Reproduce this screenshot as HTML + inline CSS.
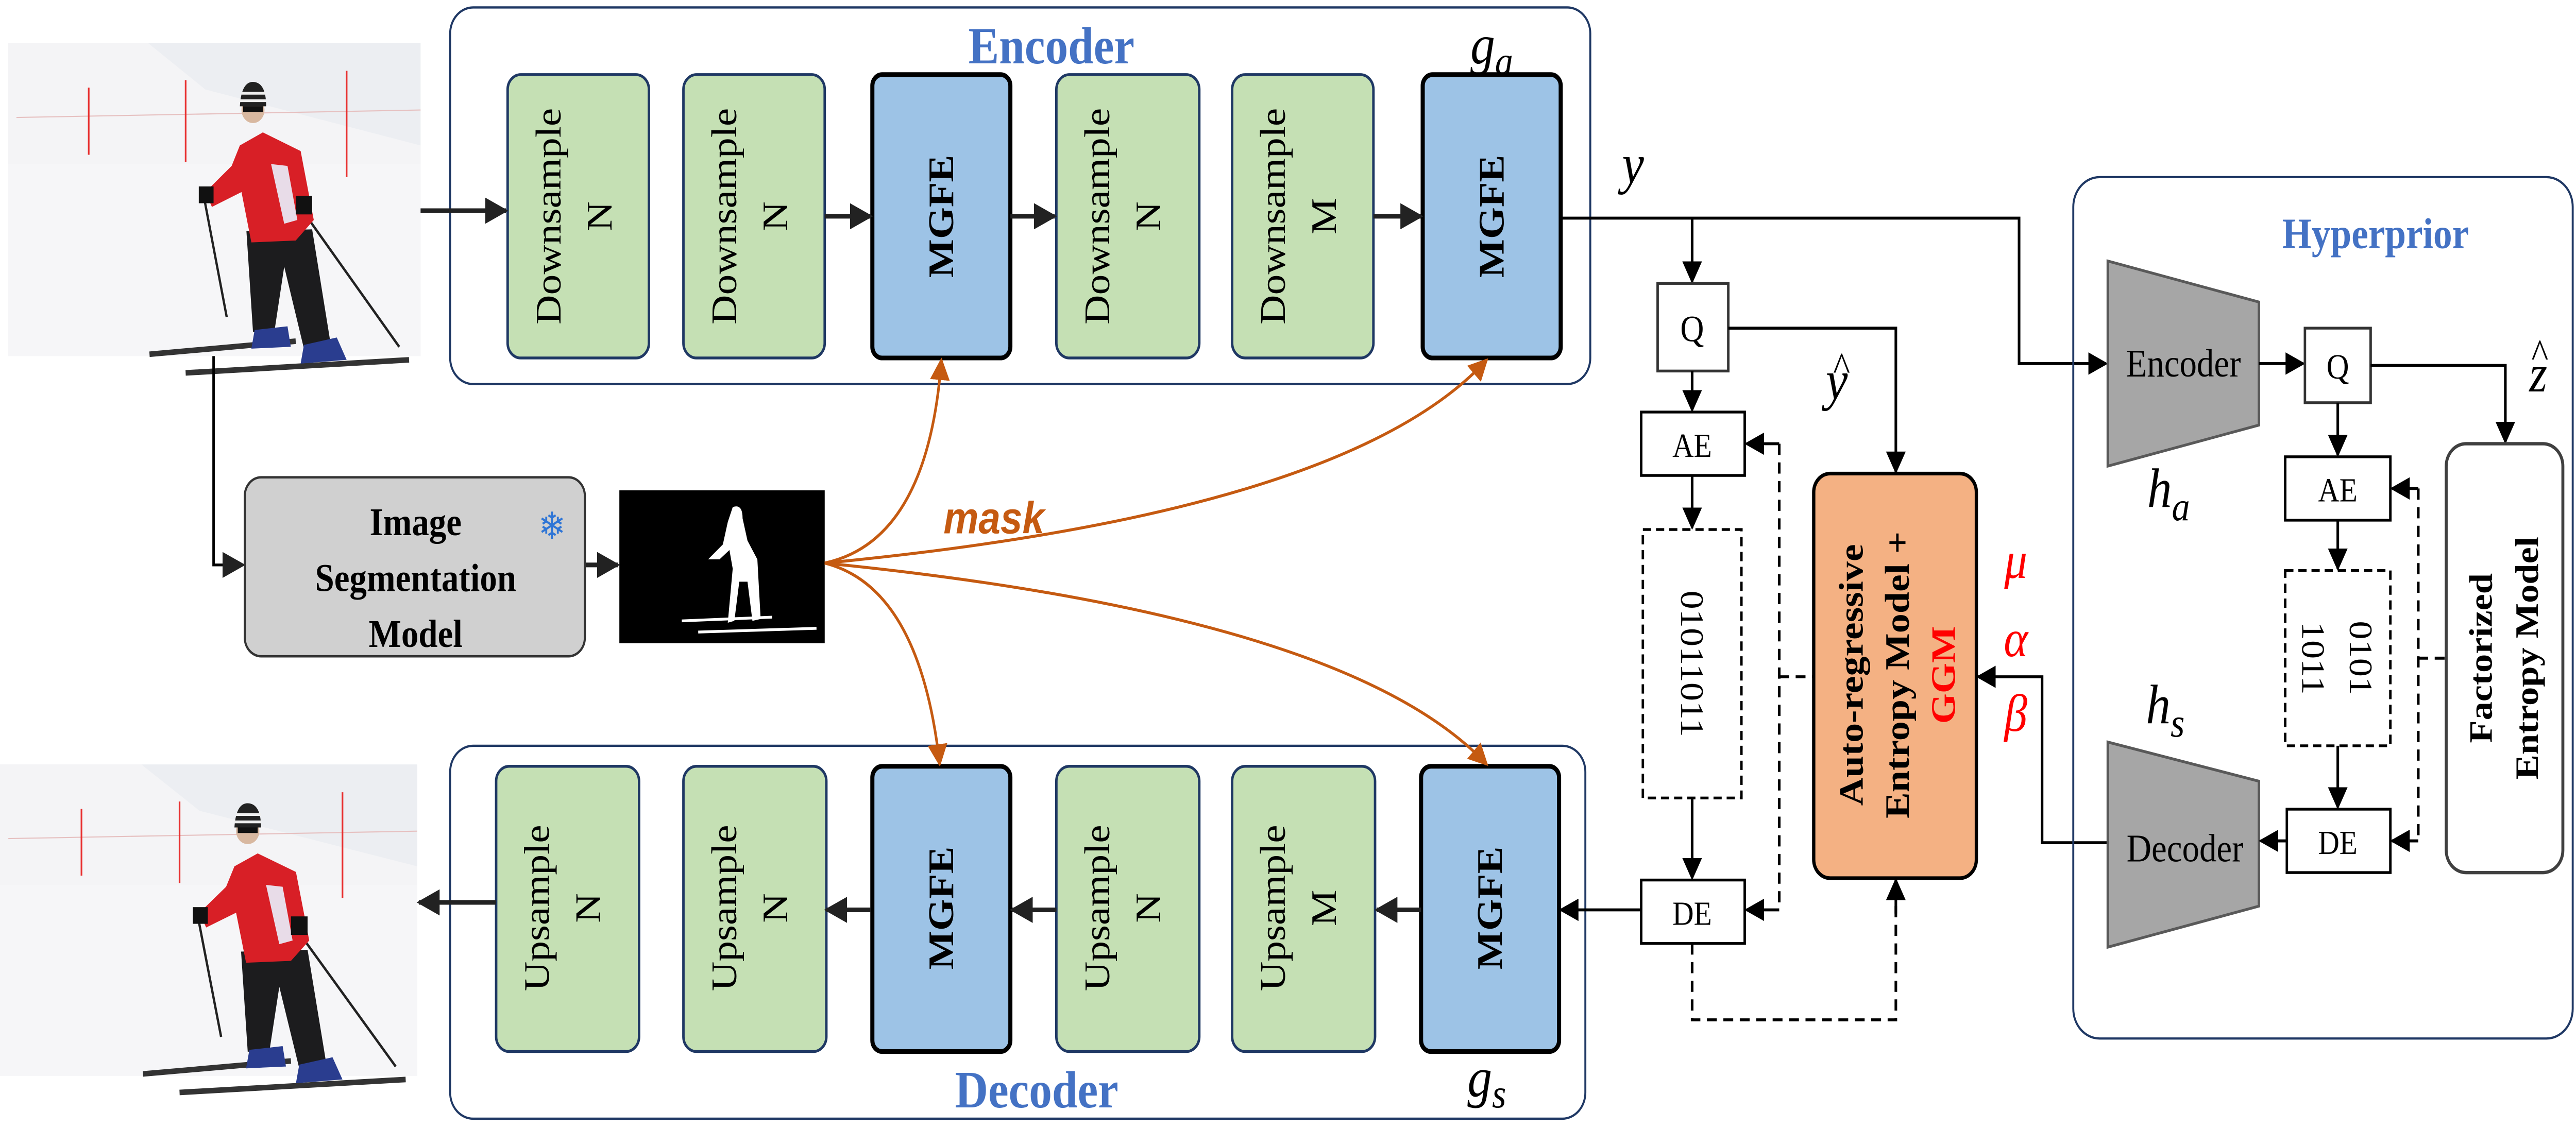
<!DOCTYPE html>
<html><head><meta charset="utf-8"><style>
html,body{margin:0;padding:0;background:#fff;width:100%;height:100%;overflow:hidden}
svg{display:block;position:absolute;left:0;top:0;width:100vw;height:100vh}
</style></head>
<body>
<svg xmlns="http://www.w3.org/2000/svg" viewBox="0 0 1568 605" preserveAspectRatio="none" font-family="Liberation Serif, serif">
<defs>
<marker id="ab" viewBox="0 0 10 10" refX="9" refY="5" markerWidth="14" markerHeight="14" orient="auto" markerUnits="userSpaceOnUse"><path d="M0,0 L10,5 L0,10 z" fill="#222"/></marker>
<marker id="ak" viewBox="0 0 10 10" refX="9" refY="5" markerWidth="12" markerHeight="12" orient="auto" markerUnits="userSpaceOnUse"><path d="M0,0 L10,5 L0,10 z" fill="#000"/></marker>
<marker id="ao" viewBox="0 0 10 10" refX="9" refY="5" markerWidth="12" markerHeight="12" orient="auto" markerUnits="userSpaceOnUse"><path d="M0,0 L10,5 L0,10 z" fill="#C55A11"/></marker>
<g id="photo">
<rect x="0" y="0" width="251" height="168" fill="#eceef2"/>
<path d="M0,0 L85,0 L120,25 L251,55 L251,168 L0,168 z" fill="#f4f4f6"/>
<path d="M0,65 L251,65 L251,168 L0,168z" fill="#f6f6f8"/>
<line x1="5" y1="40" x2="251" y2="36" stroke="#e6c0c0" stroke-width="0.6"/>
<line x1="49" y1="24" x2="49" y2="60" stroke="#e83030" stroke-width="1"/>
<line x1="108" y1="20" x2="108" y2="64" stroke="#e83030" stroke-width="1"/>
<line x1="206" y1="15" x2="206" y2="72" stroke="#e83030" stroke-width="1"/>
<line x1="119" y1="82" x2="133" y2="147" stroke="#222" stroke-width="1.4"/>
<line x1="180" y1="91" x2="238" y2="163" stroke="#222" stroke-width="1.4"/>
<path d="M86,167 L175,160" stroke="#333" stroke-width="3"/>
<path d="M108,177 L244,170" stroke="#333" stroke-width="3"/>
<path d="M145,101 L185,100 L196,160 L180,164 L168,120 L162,155 L149,155 z" fill="#1c1c1e"/>
<path d="M150,154 L170,152 L172,163 L148,164z M180,162 L200,158 L206,170 L178,172z" fill="#2a3d8f"/>
<path d="M141,55 L155,48 L178,58 L186,95 L175,106 L148,107 L142,80 L124,88 L120,80 L136,66 z" fill="#d81f26"/>
<path d="M160,65 L170,66 L176,95 L168,97 z" fill="#e8dce8"/>
<rect x="116" y="77" width="9" height="9" fill="#111"/>
<rect x="175" y="82" width="10" height="10" fill="#111"/>
<circle cx="149" cy="36" r="7" fill="#d8b8a0"/>
<path d="M141,34 Q142,20 150,21 Q157,22 157,34 z" fill="#222"/>
<path d="M142,27 L157,27 M141,31 L157,31" stroke="#eee" stroke-width="1.5"/>
<rect x="143" y="34" width="12" height="3" fill="#111"/>
</g>
</defs>

<use href="#photo" transform="translate(5,23)"/>
<use href="#photo" transform="translate(0,410) scale(1.012,0.994)"/>

<rect x="274" y="4" width="694" height="202" rx="14" fill="none" stroke="#1F3864" stroke-width="1.2"/>
<text x="640" y="34" font-size="28" font-weight="bold" fill="#4472C4" text-anchor="middle">Encoder</text>
<text x="908" y="34" font-size="30" font-style="italic" text-anchor="middle">g<tspan font-size="22" dy="6">a</tspan></text>

<rect x="274" y="400" width="691" height="200" rx="14" fill="none" stroke="#1F3864" stroke-width="1.2"/>
<text x="631" y="594" font-size="28" font-weight="bold" fill="#4472C4" text-anchor="middle">Decoder</text>
<text x="905" y="588" font-size="30" font-style="italic" text-anchor="middle">g<tspan font-size="22" dy="6">s</tspan></text>

<g font-size="22" text-anchor="middle" dominant-baseline="central">
<rect x="309" y="40" width="86" height="152" rx="8" fill="#C5E0B4" stroke="#1F3864" stroke-width="1.5"/>
<text transform="translate(334,116) rotate(-90)">Downsample</text><text transform="translate(365,116) rotate(-90)">N</text>
<rect x="416" y="40" width="86" height="152" rx="8" fill="#C5E0B4" stroke="#1F3864" stroke-width="1.5"/>
<text transform="translate(441,116) rotate(-90)">Downsample</text><text transform="translate(472,116) rotate(-90)">N</text>
<rect x="531" y="40" width="84" height="152" rx="6" fill="#9DC3E6" stroke="#000" stroke-width="2.5"/>
<text transform="translate(573,116) rotate(-90)" font-weight="bold">MGFE</text>
<rect x="643" y="40" width="87" height="152" rx="8" fill="#C5E0B4" stroke="#1F3864" stroke-width="1.5"/>
<text transform="translate(668,116) rotate(-90)">Downsample</text><text transform="translate(699,116) rotate(-90)">N</text>
<rect x="750" y="40" width="86" height="152" rx="8" fill="#C5E0B4" stroke="#1F3864" stroke-width="1.5"/>
<text transform="translate(775,116) rotate(-90)">Downsample</text><text transform="translate(806,116) rotate(-90)">M</text>
<rect x="866" y="40" width="84" height="152" rx="6" fill="#9DC3E6" stroke="#000" stroke-width="2.5"/>
<text transform="translate(908,116) rotate(-90)" font-weight="bold">MGFE</text>

<rect x="302" y="411" width="87" height="153" rx="8" fill="#C5E0B4" stroke="#1F3864" stroke-width="1.5"/>
<text transform="translate(327,487) rotate(-90)">Upsample</text><text transform="translate(358,487) rotate(-90)">N</text>
<rect x="416" y="411" width="87" height="153" rx="8" fill="#C5E0B4" stroke="#1F3864" stroke-width="1.5"/>
<text transform="translate(441,487) rotate(-90)">Upsample</text><text transform="translate(472,487) rotate(-90)">N</text>
<rect x="531" y="411" width="84" height="153" rx="6" fill="#9DC3E6" stroke="#000" stroke-width="2.5"/>
<text transform="translate(573,487) rotate(-90)" font-weight="bold">MGFE</text>
<rect x="643" y="411" width="87" height="153" rx="8" fill="#C5E0B4" stroke="#1F3864" stroke-width="1.5"/>
<text transform="translate(668,487) rotate(-90)">Upsample</text><text transform="translate(699,487) rotate(-90)">N</text>
<rect x="750" y="411" width="87" height="153" rx="8" fill="#C5E0B4" stroke="#1F3864" stroke-width="1.5"/>
<text transform="translate(775,487) rotate(-90)">Upsample</text><text transform="translate(806,487) rotate(-90)">M</text>
<rect x="865" y="411" width="84" height="153" rx="6" fill="#9DC3E6" stroke="#000" stroke-width="2.5"/>
<text transform="translate(907,487) rotate(-90)" font-weight="bold">MGFE</text>
</g>

<g stroke="#222" stroke-width="2.5" fill="none" marker-end="url(#ab)">
<line x1="256" y1="113" x2="308" y2="113"/>
<line x1="502" y1="116" x2="530" y2="116"/>
<line x1="615" y1="116" x2="642" y2="116"/>
<line x1="836" y1="116" x2="865" y2="116"/>
<line x1="530" y1="488" x2="503" y2="488"/>
<line x1="643" y1="488" x2="616" y2="488"/>
<line x1="865" y1="488" x2="838" y2="488"/>
<line x1="302" y1="484" x2="255" y2="484"/>
<line x1="356" y1="303" x2="376" y2="303"/>
</g>

<path d="M130,191 V303 H148" stroke="#000" stroke-width="1.5" fill="none" marker-end="url(#ab)"/>

<rect x="149" y="256" width="207" height="96" rx="10" fill="#D0D0D0" stroke="#333" stroke-width="1.3"/>
<g font-size="21" font-weight="bold" text-anchor="middle">
<text x="253" y="287">Image</text>
<text x="253" y="317">Segmentation</text>
<text x="253" y="347">Model</text>
</g>
<text x="336" y="289" font-size="20" fill="#2E75D6" text-anchor="middle" font-family="DejaVu Sans, sans-serif">❄</text>

<rect x="377" y="263" width="125" height="82" fill="#000"/>
<path d="M446,272 Q452,270 452,278 L455,290 L461,300 L463,332 L458,333 L455,312 L450,312 L447,333 L443,334 L446,305 L444,295 L438,300 L431,300 L440,292 L443,280 z" fill="#fff"/>
<path d="M415,333 L470,331 M425,339 L497,337" stroke="#fff" stroke-width="1.5"/>

<g stroke="#C55A11" stroke-width="1.6" fill="none" marker-end="url(#ao)">
<path d="M502,302 Q565,290 573,193"/>
<path d="M502,302 Q820,275 905,193"/>
<path d="M502,302 Q560,315 572,410"/>
<path d="M502,302 Q820,330 905,410"/>
</g>
<text x="605" y="286" font-size="24" font-weight="bold" font-style="italic" fill="#C55A11" text-anchor="middle" font-family="Liberation Sans, sans-serif">mask</text>

<text x="994" y="98" font-size="30" font-style="italic" text-anchor="middle">y</text>
<path d="M950,117 H1229 V195 H1282" stroke="#000" stroke-width="1.6" fill="none" marker-end="url(#ak)"/>
<line x1="1030" y1="117" x2="1030" y2="151" stroke="#000" stroke-width="1.6" marker-end="url(#ak)"/>

<rect x="1009" y="152" width="43" height="47" fill="#fff" stroke="#333" stroke-width="1.5"/>
<text x="1030" y="183" font-size="20" text-anchor="middle">Q</text>
<path d="M1052,176 H1154 V253" stroke="#000" stroke-width="1.6" fill="none" marker-end="url(#ak)"/>
<text x="1118" y="214" font-size="30" font-style="italic" text-anchor="middle">y</text>
<text x="1121" y="204" font-size="22" text-anchor="middle">^</text>
<line x1="1030" y1="199" x2="1030" y2="220" stroke="#000" stroke-width="1.6" marker-end="url(#ak)"/>

<rect x="999" y="221" width="63" height="34" fill="#fff" stroke="#000" stroke-width="1.5"/>
<text x="1030" y="245" font-size="18" text-anchor="middle">AE</text>
<line x1="1030" y1="255" x2="1030" y2="283" stroke="#000" stroke-width="1.6" marker-end="url(#ak)"/>
<rect x="1000" y="284" width="60" height="144" fill="#fff" stroke="#000" stroke-width="1.5" stroke-dasharray="5,3"/>
<text transform="translate(1030,356) rotate(90)" font-size="20" text-anchor="middle" dominant-baseline="central">01011011</text>
<line x1="1030" y1="428" x2="1030" y2="471" stroke="#000" stroke-width="1.6" marker-end="url(#ak)"/>
<rect x="999" y="472" width="63" height="34" fill="#fff" stroke="#000" stroke-width="1.5"/>
<text x="1030" y="496" font-size="18" text-anchor="middle">DE</text>
<line x1="999" y1="488" x2="950" y2="488" stroke="#000" stroke-width="1.6" marker-end="url(#ak)"/>

<g stroke="#000" stroke-width="1.6" fill="none" stroke-dasharray="6,4">
<path d="M1083,238 V488"/>
<path d="M1083,363 H1104"/>
<path d="M1030,506 V547 H1154 V472" />
</g>
<line x1="1083" y1="238" x2="1063" y2="238" stroke="#000" stroke-width="1.6" marker-end="url(#ak)"/>
<line x1="1083" y1="488" x2="1063" y2="488" stroke="#000" stroke-width="1.6" marker-end="url(#ak)"/>
<line x1="1154" y1="490" x2="1154" y2="472" stroke="#000" stroke-width="1.6" marker-end="url(#ak)"/>

<rect x="1104" y="254" width="99" height="217" rx="10" fill="#F4B183" stroke="#000" stroke-width="2"/>
<g font-size="21" font-weight="bold" text-anchor="middle" dominant-baseline="central">
<text transform="translate(1127,362) rotate(-90)">Auto-regressive</text>
<text transform="translate(1155,362) rotate(-90)">Entropy Model +</text>
<text transform="translate(1183,362) rotate(-90)" fill="#FF0000">GGM</text>
</g>
<g font-size="28" font-style="italic" fill="#FF0000" text-anchor="middle">
<text x="1227" y="310">μ</text>
<text x="1227" y="352">α</text>
<text x="1227" y="392">β</text>
</g>
<path d="M1283,452 H1243 V363 H1204" stroke="#000" stroke-width="1.6" fill="none" marker-end="url(#ak)"/>

<rect x="1262" y="95" width="304" height="462" rx="16" fill="none" stroke="#1F3864" stroke-width="1.2"/>
<text x="1446" y="133" font-size="23" font-weight="bold" fill="#4472C4" text-anchor="middle">Hyperprior</text>
<polygon points="1283,140 1375,162 1375,228 1283,250" fill="#A6A6A6" stroke="#595959" stroke-width="1.5"/>
<text x="1329" y="202" font-size="21" text-anchor="middle">Encoder</text>
<text x="1320" y="272" font-size="30" font-style="italic" text-anchor="middle">h<tspan font-size="22" dy="7">a</tspan></text>
<polygon points="1283,398 1375,419 1375,486 1283,508" fill="#A6A6A6" stroke="#595959" stroke-width="1.5"/>
<text x="1330" y="462" font-size="21" text-anchor="middle">Decoder</text>
<text x="1318" y="388" font-size="30" font-style="italic" text-anchor="middle">h<tspan font-size="22" dy="7">s</tspan></text>

<line x1="1375" y1="195" x2="1402" y2="195" stroke="#000" stroke-width="1.6" marker-end="url(#ak)"/>
<rect x="1403" y="176" width="40" height="40" fill="#fff" stroke="#333" stroke-width="1.5"/>
<text x="1423" y="203" font-size="19" text-anchor="middle">Q</text>
<path d="M1443,196 H1525 V237" stroke="#000" stroke-width="1.6" fill="none" marker-end="url(#ak)"/>
<text x="1545" y="210" font-size="28" font-style="italic" text-anchor="middle">z</text>
<text x="1546" y="197" font-size="22" text-anchor="middle">^</text>
<line x1="1423" y1="216" x2="1423" y2="244" stroke="#000" stroke-width="1.6" marker-end="url(#ak)"/>
<rect x="1391" y="245" width="64" height="34" fill="#fff" stroke="#000" stroke-width="1.5"/>
<text x="1423" y="269" font-size="18" text-anchor="middle">AE</text>
<line x1="1423" y1="279" x2="1423" y2="305" stroke="#000" stroke-width="1.6" marker-end="url(#ak)"/>
<rect x="1391" y="306" width="64" height="94" fill="#fff" stroke="#000" stroke-width="1.5" stroke-dasharray="5,3"/>
<g font-size="20" text-anchor="middle" dominant-baseline="central">
<text transform="translate(1437,353) rotate(90)">0101</text>
<text transform="translate(1408,353) rotate(90)">1011</text>
</g>
<line x1="1423" y1="400" x2="1423" y2="433" stroke="#000" stroke-width="1.6" marker-end="url(#ak)"/>
<rect x="1392" y="434" width="63" height="34" fill="#fff" stroke="#000" stroke-width="1.5"/>
<text x="1423" y="458" font-size="18" text-anchor="middle">DE</text>
<line x1="1392" y1="451" x2="1376" y2="451" stroke="#000" stroke-width="1.6" marker-end="url(#ak)"/>
<g stroke="#000" stroke-width="1.6" fill="none" stroke-dasharray="6,4">
<path d="M1472,262 V451"/>
<path d="M1472,353 H1489"/>
</g>
<line x1="1472" y1="262" x2="1456" y2="262" stroke="#000" stroke-width="1.6" marker-end="url(#ak)"/>
<line x1="1472" y1="451" x2="1456" y2="451" stroke="#000" stroke-width="1.6" marker-end="url(#ak)"/>

<rect x="1489" y="238" width="71" height="230" rx="12" fill="#fff" stroke="#404040" stroke-width="1.8"/>
<g font-size="20" font-weight="bold" text-anchor="middle" dominant-baseline="central">
<text transform="translate(1510,353) rotate(-90)">Factorized</text>
<text transform="translate(1538,353) rotate(-90)">Entropy Model</text>
</g>
</svg>
</body></html>
